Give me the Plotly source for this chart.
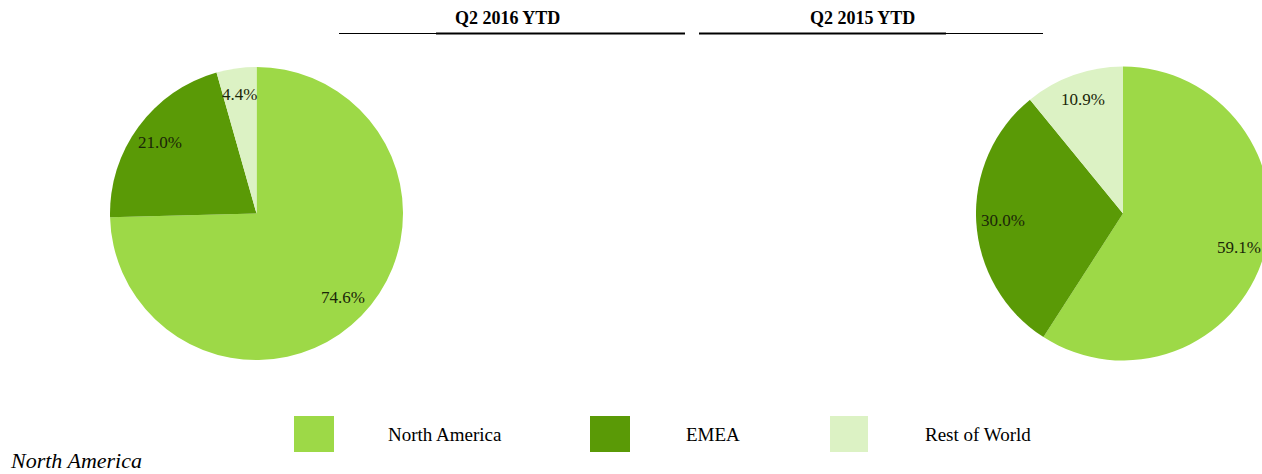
import math
import plotly.graph_objects as go

# ---- data ----
categories = ["North America", "EMEA", "Rest of World"]
values_2016 = [74.6, 21.0, 4.4]
values_2015 = [59.1, 30.0, 10.9]
period_titles = ["Q2 2016 YTD", "Q2 2015 YTD"]
footer_text = "North America"
colors = ["#9DD947", "#5A9A06", "#DCF2C4"]

W, H = 1280, 474


def fx(x):
    return x / W


def fy(y):
    return 1 - y / H


fig = go.Figure()

pies = [
    (values_2016, 256.5, 213.5, 146.5),
    (values_2015, 1123.0, 213.5, 147.0),
]

annotations = []
for vals, cx, cy, r in pies:
    fig.add_trace(go.Pie(
        labels=categories,
        values=vals,
        sort=False,
        direction="clockwise",
        rotation=0,
        marker=dict(colors=colors, line=dict(width=0)),
        textinfo="none",
        hoverinfo="label+percent",
        showlegend=False,
        domain=dict(x=[fx(cx - r), fx(cx + r)], y=[fy(cy + r), fy(cy - r)]),
    ))
    total = sum(vals)
    cum = 0.0
    for v in vals:
        mid = (cum + v / 2) / total * 2 * math.pi
        cum += v
        lx = cx + 0.82 * r * math.sin(mid)
        ly = cy - 0.82 * r * math.cos(mid)
        annotations.append(dict(
            x=fx(lx), y=fy(ly), xref="paper", yref="paper",
            text=f"{v:.1f}%", showarrow=False,
            xanchor="center", yanchor="middle",
            font=dict(family="Liberation Serif", size=17, color="#1a2608"),
        ))

# titles
for t, cx in zip(period_titles, [507, 862]):
    annotations.append(dict(
        x=fx(cx), y=fy(18), xref="paper", yref="paper", text=f"<b>{t}</b>",
        showarrow=False, xanchor="center", yanchor="middle",
        font=dict(family="Liberation Serif", size=18, color="#000000"),
    ))

shapes = []
# title rules
for x0, x1, w in [(339, 685, 1), (436, 685, 2), (699, 1043, 1), (699, 946, 2)]:
    shapes.append(dict(type="line", xref="paper", yref="paper",
                       x0=fx(x0), x1=fx(x1), y0=fy(33.5), y1=fy(33.5),
                       line=dict(color="#000000", width=w)))

# custom legend
legend_boxes = [(294, 334), (590, 630), (830, 868)]
legend_text_x = [445, 713, 978]
for (x0, x1), tx, name, col in zip(legend_boxes, legend_text_x, categories, colors):
    shapes.append(dict(type="rect", xref="paper", yref="paper",
                       x0=fx(x0), x1=fx(x1), y0=fy(452), y1=fy(416),
                       fillcolor=col, line=dict(width=0)))
    annotations.append(dict(
        x=fx(tx), y=fy(434), xref="paper", yref="paper", text=name,
        showarrow=False, xanchor="center", yanchor="middle",
        font=dict(family="Liberation Serif", size=19, color="#000000"),
    ))

# footer
annotations.append(dict(
    x=fx(8), y=fy(460), xref="paper", yref="paper", text=f"<i>{footer_text}</i>",
    showarrow=False, xanchor="left", yanchor="middle",
    font=dict(family="Liberation Serif", size=22, color="#000000"),
))

fig.update_layout(
    width=W, height=H,
    margin=dict(l=0, r=0, t=0, b=0),
    paper_bgcolor="#FFFFFF",
    plot_bgcolor="#FFFFFF",
    annotations=annotations,
    shapes=shapes,
)

post = ("document.body.style.margin='0';"
        "document.body.style.overflow='hidden';"
        "document.documentElement.style.overflow='hidden';")
fig.write_html("out.html", post_script=post, config={"displayModeBar": False})
